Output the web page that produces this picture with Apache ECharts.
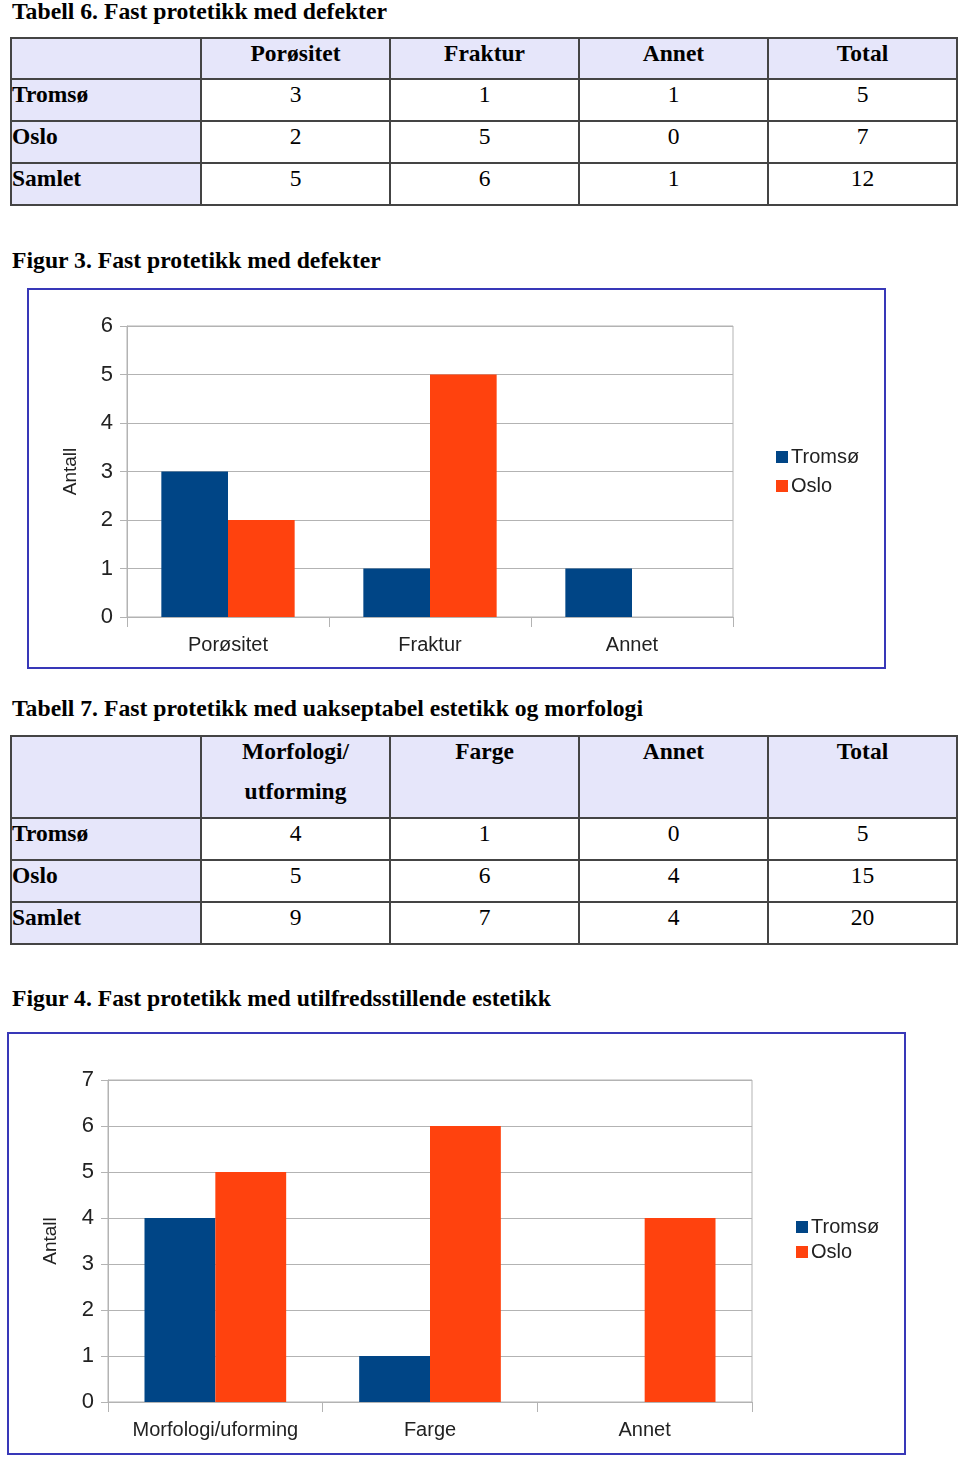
<!DOCTYPE html>
<html>
<head>
<meta charset="utf-8">
<script src="https://cdn.jsdelivr.net/npm/echarts@6/dist/echarts.min.js"></script>
<style>
  html, body { margin: 0; padding: 0; background: #fff; }
  body { width: 960px; height: 1458px; position: relative; overflow: hidden;
         font-family: "Liberation Serif", "Times New Roman", serif; color: #000; }
  .cap { position: absolute; left: 12px; font-weight: bold; font-size: 23.7px; line-height: 24px; white-space: nowrap; }
  table { position: absolute; left: 10px; width: 948px; border-collapse: collapse; table-layout: fixed;
          font-size: 23.5px; }
  td { border: 2px solid #444; padding: 1px 2px 0 2px; vertical-align: top; line-height: 26px; text-align: center; }
  td.lab { background: #e6e6fa; text-align: left; font-weight: bold; padding-left: 0; }
  tr.head td { background: #e6e6fa; font-weight: bold; }
  .box { position: absolute; border: 2px solid #3838b8; background: #fff; }
  .chart { width: 100%; height: 100%; }
</style>
</head>
<body>
<div class="cap" style="top:-1px">Tabell 6. Fast protetikk med defekter</div>
<table id="t6" style="top:37px"></table>
<div class="cap" style="top:248px">Figur 3. Fast protetikk med defekter</div>
<div class="box" style="left:27px; top:288px; width:855px; height:377px;"><div id="c1" class="chart"></div></div>
<div class="cap" style="top:696px">Tabell 7. Fast protetikk med uakseptabel estetikk og morfologi</div>
<table id="t7" style="top:735px"></table>
<div class="cap" style="top:986px">Figur 4. Fast protetikk med utilfredsstillende estetikk</div>
<div class="box" style="left:7px; top:1032px; width:895px; height:419px;"><div id="c2" class="chart"></div></div>

<script>
// ---- Data ----
const rowLabels = ['Tromsø', 'Oslo', 'Samlet'];
const table6Cols = ['Porøsitet', 'Fraktur', 'Annet', 'Total'];
const table6Tromso = [3, 1, 1, 5];
const table6Oslo = [2, 5, 0, 7];
const table6Samlet = [5, 6, 1, 12];

const table7Cols = [['Morfologi/', 'utforming'], ['Farge'], ['Annet'], ['Total']];
const table7Tromso = [4, 1, 0, 5];
const table7Oslo = [5, 6, 4, 15];
const table7Samlet = [9, 7, 4, 20];

const seriesNames = ['Tromsø', 'Oslo'];
const fig3Categories = ['Porøsitet', 'Fraktur', 'Annet'];
const fig3Tromso = [3, 1, 1];
const fig3Oslo = [2, 5, 0];
const fig3YMax = 6;

const fig4Categories = ['Morfologi/uforming', 'Farge', 'Annet'];
const fig4Tromso = [4, 1, 0];
const fig4Oslo = [5, 6, 4];
const fig4YMax = 7;

const axisName = 'Antall';

// ---- Tables ----
function buildTable(id, cols, rows, headHeight) {
  const t = document.getElementById(id);
  let html = '<colgroup><col style="width:190px"><col><col><col><col></colgroup>';
  html += '<tr class="head" style="height:' + headHeight + 'px"><td></td>';
  cols.forEach(c => {
    const lines = Array.isArray(c) ? c : [c];
    html += '<td>' + lines.map((l, i) => '<div style="' + (i > 0 ? 'margin-top:14px' : '') + '">' + l + '</div>').join('') + '</td>';
  });
  html += '</tr>';
  rows.forEach((r, i) => {
    html += '<tr style="height:42px"><td class="lab">' + rowLabels[i] + '</td>';
    r.forEach(v => { html += '<td>' + v + '</td>'; });
    html += '</tr>';
  });
  t.innerHTML = html;
}
buildTable('t6', table6Cols, [table6Tromso, table6Oslo, table6Samlet], 41);
buildTable('t7', table7Cols, [table7Tromso, table7Oslo, table7Samlet], 82);

// ---- Charts ----
const COLORS = ['#004586', '#ff420e'];
const FONT = '"Liberation Sans", Arial, sans-serif';
function makeChart(id, cats, tromso, oslo, ymax, g) {
  const chart = echarts.init(document.getElementById(id), null, { renderer: 'canvas' });
  chart.setOption({
    animation: false,
    color: COLORS,
    textStyle: { fontFamily: FONT },
    grid: { left: g.left, top: g.top, width: g.width, height: g.height, show: true,
            borderColor: '#b3b3b3', borderWidth: 1, backgroundColor: 'transparent' },
    legend: {
      orient: 'vertical', left: g.legendLeft, top: g.legendTop, itemWidth: 12, itemHeight: 12,
      itemGap: g.legendGap, icon: 'rect', data: seriesNames,
      textStyle: { fontSize: 20, color: '#222', fontFamily: FONT, padding: [0, 0, 0, -2] }
    },
    xAxis: {
      type: 'category', data: cats,
      axisLine: { lineStyle: { color: '#b3b3b3', width: 1 } },
      axisTick: { show: true, length: 10, lineStyle: { color: '#b3b3b3' } },
      axisLabel: { fontSize: 20, color: '#222', margin: 18, fontFamily: FONT, interval: 0 }
    },
    yAxis: {
      type: 'value', min: 0, max: ymax, interval: 1,
      name: axisName, nameLocation: 'middle', nameGap: g.nameGap, nameRotate: 90,
      nameTextStyle: { fontSize: 19, color: '#222', fontFamily: FONT },
      axisLine: { show: true, lineStyle: { color: '#b3b3b3', width: 1 } },
      axisTick: { show: true, length: 7, lineStyle: { color: '#b3b3b3' } },
      axisLabel: { fontSize: 22, color: '#222', margin: 14, fontFamily: FONT },
      splitLine: { show: true, lineStyle: { color: '#b3b3b3', width: 1 } }
    },
    series: [
      { name: seriesNames[0], type: 'bar', data: tromso, barGap: 0, barCategoryGap: '34%' },
      { name: seriesNames[1], type: 'bar', data: oslo, barGap: 0, barCategoryGap: '34%' }
    ]
  });
}
makeChart('c1', fig3Categories, fig3Tromso, fig3Oslo, fig3YMax,
  { left: 98, top: 36, width: 606, height: 291, nameGap: 47, legendLeft: 742, legendTop: 152, legendGap: 9 });
makeChart('c2', fig4Categories, fig4Tromso, fig4Oslo, fig4YMax,
  { left: 99, top: 46, width: 644, height: 322, nameGap: 48, legendLeft: 782, legendTop: 178, legendGap: 5 });
</script>
</body>
</html>
